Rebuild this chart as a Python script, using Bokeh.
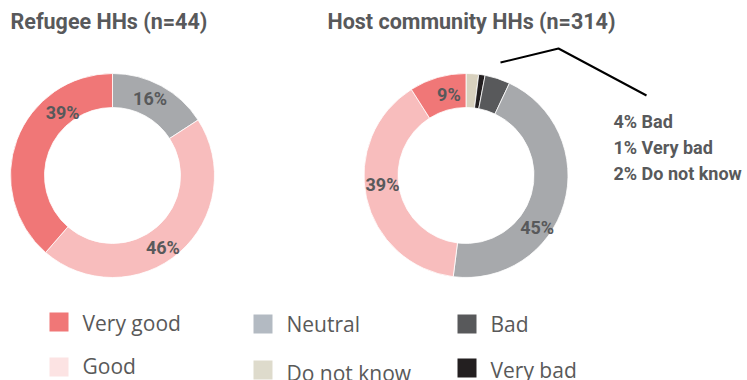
import numpy as np
from bokeh.plotting import figure
from bokeh.models import Range1d
from bokeh.core.properties import value
from bokeh.embed import file_html
from bokeh.resources import INLINE

# ---- data -------------------------------------------------------------
refugee_title = "Refugee HHs (n=44)"
refugee_cats = ["Neutral", "Good", "Very good"]
refugee_vals = [16, 46, 39]

host_title = "Host community HHs (n=314)"
host_cats = ["Do not know", "Very bad", "Bad", "Neutral", "Good", "Very good"]
host_vals = [2, 1, 4, 45, 39, 9]

legend_cats = ["Very good", "Good", "Neutral", "Do not know", "Bad", "Very bad"]

callout_lines = ["4% Bad", "1% Very bad", "2% Do not know"]

# ---- styles -----------------------------------------------------------
W, H = 747, 380
ring_color = {
    "Very good": "#F07777",
    "Good": "#F8BDBD",
    "Neutral": "#A7A9AC",
    "Bad": "#58595B",
    "Very bad": "#231F20",
    "Do not know": "#D8D1BE",
}
legend_color = {
    "Very good": "#F07777",
    "Good": "#FCE3E3",
    "Neutral": "#B3BAC2",
    "Bad": "#58595B",
    "Very bad": "#231F20",
    "Do not know": "#DEDBCC",
}
TXT = "#58595B"
OUTER, INNER = 102, 68

p = figure(width=W, height=H, output_backend="svg", toolbar_location=None,
           x_range=Range1d(0, W), y_range=Range1d(0, H),
           min_border=0, min_border_left=0, min_border_right=0,
           min_border_top=0, min_border_bottom=0)
p.axis.visible = False
p.grid.visible = False
p.outline_line_color = None
p.background_fill_color = "white"
p.border_fill_color = "white"


def Y(sy):
    # screen-style y (down from top) to plot y
    return H - sy


def donut(cx, cy, cats, vals, labels_at):
    v = np.array(vals, dtype=float)
    frac = v / v.sum()
    c1 = np.cumsum(frac)
    c0 = c1 - frac
    start = np.pi / 2 - 2 * np.pi * c0
    end = np.pi / 2 - 2 * np.pi * c1
    p.annular_wedge(x=cx, y=Y(cy), inner_radius=INNER, outer_radius=OUTER,
                    inner_radius_units="screen", outer_radius_units="screen",
                    start_angle=start, end_angle=end, direction="clock",
                    fill_color=[ring_color[c] for c in cats],
                    line_color="white", line_width=0.8)
    # percent labels for the larger slices
    for cat, val in zip(cats, vals):
        if cat not in labels_at:
            continue
        f, r = labels_at[cat]
        th = 2 * np.pi * f
        p.text(x=[cx + r * np.sin(th)], y=[Y(cy) + r * np.cos(th)],
               text=[f"{val}%"], text_align="center", text_baseline="middle",
               text_font=value("Roboto"), text_font_style="bold",
               text_font_size="18px", text_color=TXT)


# left ring
donut(112, 175, refugee_cats, refugee_vals,
      {"Neutral": (0.072, 86), "Good": (0.403, 88), "Very good": (0.893, 80)})
# right ring
donut(465.5, 175, host_cats, host_vals,
      {"Neutral": (0.35, 88), "Good": (0.733, 84), "Very good": (0.967, 83)})

# titles
p.text(x=[10, 327], y=[Y(21), Y(21)], text=[refugee_title, host_title],
       text_align="left", text_baseline="middle",
       text_font=value("Roboto"), text_font_style="bold",
       text_font_size="21.5px", text_color=TXT)

# callout for the three small slices
p.line(x=[500, 558, 646], y=[Y(62), Y(48), Y(95)], line_color="black", line_width=2)
p.text(x=[613] * 3, y=[Y(121), Y(147), Y(173)], text=callout_lines,
       text_align="left", text_baseline="middle",
       text_font=value("Roboto"), text_font_style="bold",
       text_font_size="18px", text_color=TXT)

# legend: three columns, two rows
col_x = [49, 253, 457]
box_y = [[312, 357], [314, 360], [314, 358]]
mid_y = [[322, 365], [323.5, 372], [323.5, 369]]
for i, cat in enumerate(legend_cats):
    c, r = divmod(i, 2)
    x0 = col_x[c]
    y0 = box_y[c][r]
    p.quad(left=x0, right=x0 + 19, top=Y(y0), bottom=Y(y0 + 19),
           fill_color=legend_color[cat], line_color=None)
    p.text(x=[x0 + 33], y=[Y(mid_y[c][r])], text=[cat],
           text_align="left", text_baseline="middle",
           text_font=value("Open Sans"), text_font_size="21px",
           text_color="#595959")

open("out.html", "w").write(file_html(p, INLINE))
